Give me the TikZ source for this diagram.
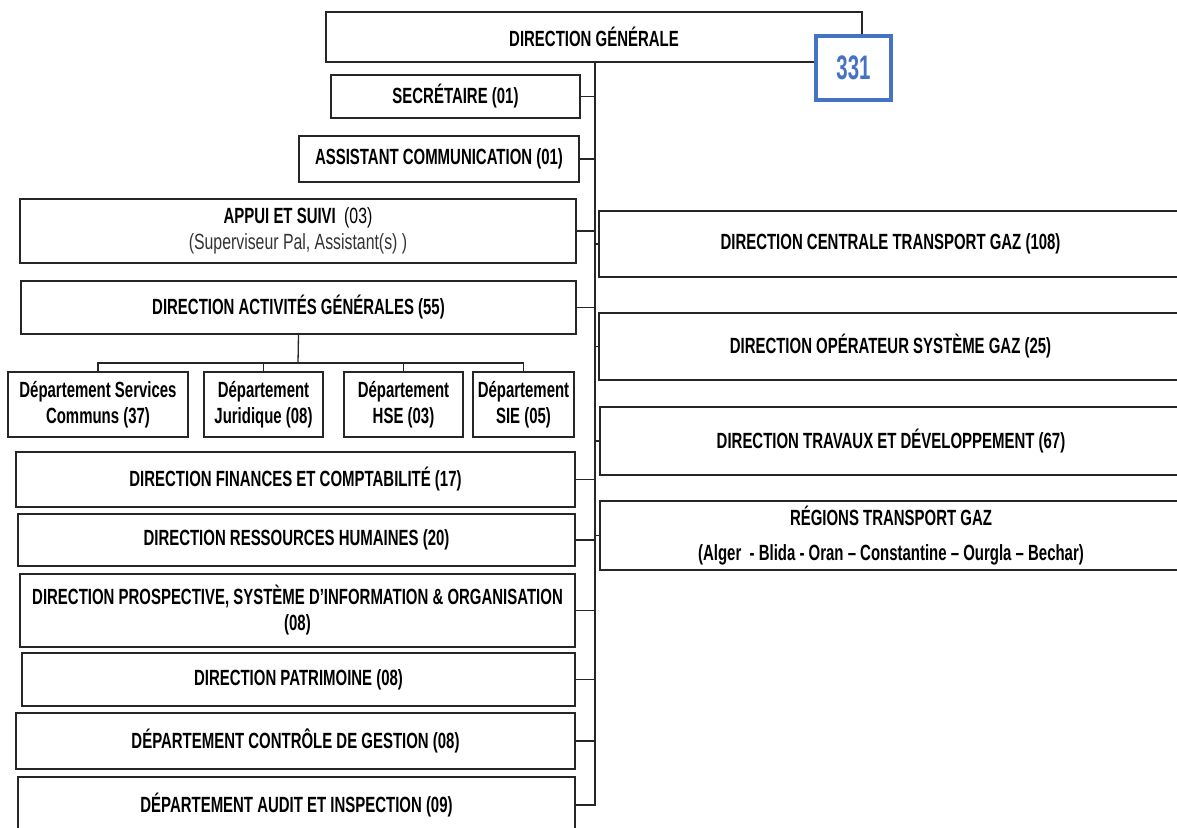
\documentclass[tikz,border=0pt]{standalone}
\usepackage{fontspec}
\setmainfont{Liberation Sans}[FakeStretch=0.68]
\newfontfamily\soustitre{Liberation Sans}[FakeStretch=0.72]
\newfontfamily\chiffres{Liberation Sans}[FakeStretch=0.6]
\usepackage{xcolor}
\usepackage{tikz}
\definecolor{bleucadre}{HTML}{4472C4}
\newcommand\sousligne[1]{{\soustitre\mdseries\color{black!80}#1}}

\begin{document}
\begin{tikzpicture}[x=1pt,y=-1pt,
    box/.style={draw=black!85,line width=1.6pt,fill=white,inner sep=0pt,
      align=center,font=\fontsize{22}{26}\selectfont\bfseries},
    link/.style={draw=black!85,line width=1.3pt},
    effectif/.style={draw=bleucadre,line width=3.5pt,fill=white,inner sep=0pt,
      text=bleucadre,font=\chiffres\fontsize{34}{38}\selectfont\bfseries}]
      \path[use as bounding box,clip] (0,0) rectangle (1177,827);

      \node[box,minimum width=536pt,minimum height=50pt] (dg) at (594,37) {DIRECTION GÉNÉRALE};

      \node[box,minimum width=249pt,minimum height=43pt] (sec) at (455.5,96.5) {SECRÉTAIRE (01)};
      \node[box,minimum width=280pt,minimum height=46pt] (asst) at (439,159) {ASSISTANT COMMUNICATION (01)};
      \node[box,minimum width=556pt,minimum height=64pt] (appui) at (298,231)
        {APPUI ET SUIVI\ \ {\soustitre\mdseries(03)}\\\sousligne{(Superviseur Pal, Assistant(s) )}};
      \node[box,minimum width=555pt,minimum height=53pt] (dag) at (298.5,307.5) {DIRECTION ACTIVITÉS GÉNÉRALES (55)};

      \node[box,minimum width=180pt,minimum height=65pt] (dsc) at (98,404.5) {Département Services\\Communs (37)};
      \node[box,minimum width=119pt,minimum height=65pt] (dj) at (263.5,404.5) {Département\\Juridique (08)};
      \node[box,minimum width=119pt,minimum height=65pt] (hse) at (403.5,404.5) {Département\\HSE (03)};
      \node[box,minimum width=101pt,minimum height=65pt] (sie) at (523.5,404.5) {Département\\SIE (05)};

      \node[box,minimum width=559pt,minimum height=55pt] (dfc) at (295.5,479.5) {DIRECTION FINANCES ET COMPTABILITÉ (17)};
      \node[box,minimum width=557pt,minimum height=52pt] (drh) at (296.5,540) {DIRECTION RESSOURCES HUMAINES (20)};
      \node[box,minimum width=555pt,minimum height=73pt] (dpsio) at (297.5,610.5)
        {DIRECTION PROSPECTIVE, SYSTÈME D’INFORMATION \& ORGANISATION\\(08)};
      \node[box,minimum width=553pt,minimum height=53pt] (dp) at (298.5,679.5) {DIRECTION PATRIMOINE (08)};
      \node[box,minimum width=559pt,minimum height=56pt] (dcg) at (295.5,741) {DÉPARTEMENT CONTRÔLE DE GESTION (08)};
      \node[box,minimum width=557pt,minimum height=56pt] (dai) at (296.5,805) {DÉPARTEMENT AUDIT ET INSPECTION (09)};

      \node[box,minimum width=583pt,minimum height=66pt] (dctg) at (890.5,244) {DIRECTION CENTRALE TRANSPORT GAZ (108)};
      \node[box,minimum width=583pt,minimum height=67pt] (dosg) at (890.5,346.5) {DIRECTION OPÉRATEUR SYSTÈME GAZ (25)};
      \node[box,minimum width=582pt,minimum height=68pt] (dtd) at (891,441) {DIRECTION TRAVAUX ET DÉVELOPPEMENT (67)};
      \node[box,minimum width=582pt,minimum height=69pt] (rtg) at (891,535.5)
        {RÉGIONS TRANSPORT GAZ\\[9pt](Alger\ \ - Blida - Oran – Constantine – Ourgla – Bechar)};

      \coordinate (trunkend) at (595,806);
      \coordinate (trunktop) at (595,62);
      \coordinate (dagbar) at (298,363);

      \draw[link] (trunktop) -- (trunkend);
      \foreach \n in {sec,asst,appui,dag,dfc,drh,dpsio,dp,dcg,dai}
        \draw[link] (\n.east) -- (\n.east -| trunktop);
      \foreach \n in {dctg,dosg,dtd,rtg}
        \draw[link] (\n.west) -- (\n.west -| trunktop);

      \draw[link] (dag.south) -- (dagbar);
      \draw[link] (dsc.north) -- (dsc.north |- dagbar) -- (sie.north |- dagbar) -- (sie.north);
      \foreach \n in {dj,hse}
        \draw[link] (\n.north) -- (\n.north |- dagbar);

      \node[effectif,minimum width=75pt,minimum height=64pt] (total) at (853.5,68) {331};
    \end{tikzpicture}
\end{document}
